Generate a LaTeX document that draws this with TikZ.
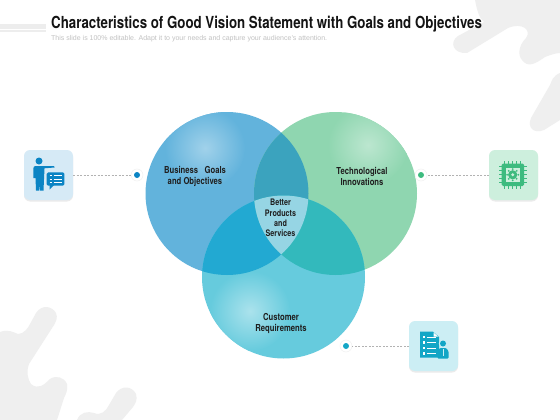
\documentclass[tikz,border=0pt]{standalone}
\usepackage{fontspec}
\setmainfont{Liberation Sans}
\newfontfamily\titlefont[FakeStretch=0.8]{TeX Gyre Heros}
\definecolor{blobc}{HTML}{EFEFEF}
\definecolor{cA}{HTML}{62B3DC}
\definecolor{cB}{HTML}{8FD6B0}
\definecolor{cC}{HTML}{66CBDD}
\definecolor{cAB}{HTML}{3BA3BE}
\definecolor{cAC}{HTML}{22A9D2}
\definecolor{cBC}{HTML}{33B9BC}
\definecolor{cABC}{HTML}{96D5E4}
\definecolor{tL}{HTML}{D6EAF6}
\definecolor{tR}{HTML}{CDEFDD}
\definecolor{tC}{HTML}{CCEEF4}
\definecolor{iL}{HTML}{0B84C4}
\definecolor{iR}{HTML}{3DBB7F}
\definecolor{iC}{HTML}{13A6C6}
\tikzset{
  venn/.style={circle,minimum size=163pt,inner sep=0pt,outer sep=0pt},
  tile/.style={rounded corners=6pt,minimum width=49pt,minimum height=50pt,inner sep=0pt,outer sep=0pt},
  tileshadow/.style={rounded corners=6pt,fill=black!8,minimum width=49pt,minimum height=50pt,inner sep=0pt},
  halo/.style={circle,fill=white,draw=black!6,line width=.5pt,minimum size=12pt,inner sep=0pt},
  dotc/.style={circle,minimum size=6pt,inner sep=0pt},
  lnk/.style={draw=black!30,dashed,dash pattern=on 2pt off 1.5pt,line width=.5pt},
  lab/.style={align=center,inner sep=0pt,font=\titlefont\bfseries\fontsize{9.6}{11}\selectfont,text=black!88},
  wl/.style={draw=white,line width=.9pt}
}
\begin{document}
\begin{tikzpicture}[x=1pt,y=-1pt]
\useasboundingbox (0,0) rectangle (560,420);
\fill[white] (0,0) rectangle (560,420);
% background blobs
\fill[blobc] (475,0) .. controls (477,10) and (479,18) .. (484,22) -- (458,36)
  .. controls (449,42) and (453,54) .. (467,53) -- (508,28)
  .. controls (522,22) and (532,30) .. (526,38) .. controls (518,46) and (518,56) .. (522,60)
  .. controls (528,68) and (535,64) .. (545,57) .. controls (550,55) and (556,53) .. (560,53)
  -- (560,73) .. controls (553,76) and (552,80) .. (550,85) -- (531,118)
  .. controls (527,128) and (534,134) .. (544,130) -- (560,120) -- (560,0) -- cycle;
\fill[blobc] (0,420) -- (0,332) .. controls (8,329) and (13,332) .. (18,334)
  .. controls (24,334) and (28,328) .. (30,324) -- (36,313)
  .. controls (42,304) and (52,306) .. (56,313) .. controls (58,318) and (56,321) .. (54,325)
  -- (29,364) .. controls (26,372) and (28,380) .. (31,384)
  .. controls (38,390) and (44,385) .. (50,379) .. controls (56,375) and (64,377) .. (67,384)
  .. controls (68,390) and (66,394) .. (64,398) -- (57,420) -- cycle;
\fill[blobc] (77,420) .. controls (80,412) and (88,411) .. (94,413)
  .. controls (101,416) and (106,411) .. (109,405) -- (116,393)
  .. controls (122,385) and (132,386) .. (136,394) .. controls (138,400) and (135,404) .. (133,407)
  -- (122,420) -- cycle;
% title decoration
\fill[black!7] (0,24) rectangle (46,29.5);
\fill[black!7] (0,30.5) rectangle (46,32);
\node[anchor=base west,inner sep=0pt,font=\titlefont\bfseries\fontsize{16.6}{18}\selectfont,text=black!92] (title) at (51,29) {Characteristics of Good Vision Statement with Goals and Objectives};
\node[anchor=base west,inner sep=0pt,font=\fontsize{7}{8}\selectfont,text=black!24] (sub) at (51,41) {This slide is 100\% editable. Adapt it to your needs and capture your audience's attention.};
% Venn circles
\node[venn,fill=cA] (A) at (227,193.5) {};
\begin{scope}
\clip (227,193.5) circle (81.5);
\shade[inner color=cA!60!white,outer color=cA] (205,148) circle (40);
\end{scope}
\node[venn,fill=cB] (B) at (335.5,193.5) {};
\begin{scope}
\clip (335.5,193.5) circle (81.5);
\shade[inner color=cB!60!white,outer color=cB] (368,145) circle (40);
\end{scope}
\node[venn,fill=cC] (C) at (283.5,277) {};
\begin{scope}
\clip (283.5,277) circle (81.5);
\shade[inner color=cC!55!white,outer color=cC] (250,311) circle (40);
\end{scope}
\begin{scope}
\clip (227,193.5) circle (81.5);
\fill[cAB] (335.5,193.5) circle (81.5);
\end{scope}
\begin{scope}
\clip (227,193.5) circle (81.5);
\fill[cAC] (283.5,277) circle (81.5);
\end{scope}
\begin{scope}
\clip (335.5,193.5) circle (81.5);
\fill[cBC] (283.5,277) circle (81.5);
\end{scope}
\begin{scope}
\clip (227,193.5) circle (81.5);
\clip (335.5,193.5) circle (81.5);
\fill[cABC] (283.5,277) circle (81.5);
\end{scope}
% labels
\node[lab] (lA) at (195,176) {Business\ \ \ Goals\\and Objectives};
\node[lab] (lB) at (362,176) {Technological\\Innovations};
\node[lab] (lC) at (281,323.5) {Customer\\Requirements};
\node[lab,font=\titlefont\bfseries\fontsize{9}{10.4}\selectfont] (lABC) at (280.5,218) {Better\\Products\\and\\Services};
% tiles
\node[tileshadow] at (48.5,176.5) {};
\node[tileshadow] at (513.5,176.5) {};
\node[tileshadow] at (433.5,347.5) {};
\node[tile,fill=tL] (tileL) at (48.5,175) {};
\node[tile,fill=tR] (tileR) at (513.5,175) {};
\node[tile,fill=tC] (tileC) at (433.5,346) {};
% dots and connectors
\node[halo] (hL) at (137,175) {};
\node[halo] (hR) at (421,175) {};
\node[halo] (hC) at (346,346) {};
\node[dotc,fill=iL] (dL) at (137,175) {};
\node[dotc,fill=iR] (dR) at (421,175) {};
\node[dotc,fill=iC] (dC) at (346,346) {};
\draw[lnk] (tileL.east) -- (hL.west);
\draw[lnk] (tileR.west) -- (hR.east);
\draw[lnk] (tileC.west) -- (hC.east);
% person icon
\fill[iL] (39,161) circle (3.5);
\fill[iL] (33.3,168.5) .. controls (33.3,166.5) and (34.5,166) .. (36,166) -- (54,166) -- (54.5,167.5) -- (44.5,168.3) -- (43.5,190.5) -- (39.8,190.5) -- (39.5,183) -- (39,190.5) -- (36,190.5) -- (35.5,178) -- (33.3,178) -- cycle;
\fill[iL,rounded corners=1.5pt] (46.7,172.3) rectangle (64.3,185.7);
\fill[iL] (49.5,185) -- (49.5,189.5) -- (54,185) -- cycle;
\foreach \yy in {175.5,179,182.5}{
  \draw[white,line width=.8pt] (53.5,\yy) -- (62,\yy);
  \draw[white,line width=.8pt] (49.5,\yy) -- (51.5,\yy);
}
% chip icon
\foreach \dd in {-8,-4,0,4,8}{
  \draw[iR,line width=1.2pt] (512.7+\dd,161) -- (512.7+\dd,188.5);
  \draw[iR,line width=1.2pt] (499,174.8+\dd) -- (526.5,174.8+\dd);
}
\fill[iR,rounded corners=1.5pt] (501.5,163.5) rectangle (524,186);
\fill[tR] (505.5,167.5) rectangle (520,182);
\fill[iR] (512.7,174.8) circle (4.6);
\foreach \aa in {0,45,...,315}{\fill[iR] (512.7,174.8) ++(\aa:5.6) circle (1);}
\fill[tR] (512.7,174.8) circle (1.6);
% checklist icon
\fill[iC] (420,331.7) -- (433,331.7) -- (439,337) -- (439,357.7) -- (420,357.7) -- cycle;
\fill[white] (433.5,332.5) -- (433.5,336.5) -- (438,336.5) -- cycle;
\foreach \yy in {337,342.5,348,353.5}{
  \draw[white,line width=.9pt] (427,\yy) -- (436,\yy);
  \fill[white] (422.5,\yy-1.2) rectangle (425,\yy+1.2);
}
\fill[tC] (443,343.5) circle (4.2);
\fill[iC] (443,343.5) circle (3);
\fill[iC,rounded corners=1pt] (437.5,358.7) -- (437.5,351) -- (440,348) -- (446,348) -- (448.5,351) -- (448.5,358.7) -- cycle;
\draw[tC,line width=.9pt] (443,349) -- (443,356);
\end{tikzpicture}
\end{document}
